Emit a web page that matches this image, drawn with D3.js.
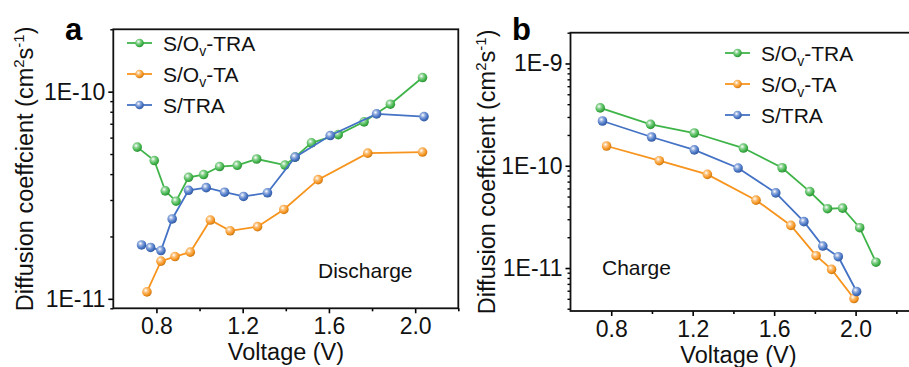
<!DOCTYPE html>
<html>
<head>
<meta charset="utf-8">
<script src="https://cdn.jsdelivr.net/npm/d3@7"></script>
<style>
  html, body { margin: 0; padding: 0; background: #fff; }
  svg { display: block; font-family: "Liberation Sans", Arial, sans-serif; }
</style>
</head>
<body>
<svg id="chart" width="909" height="367"></svg>
<script>
// ---- data (voltage V, diffusion coefficient cm2/s) ----
const seriesKeys = ["ovTRA", "ovTA", "sTRA"];

// panel a : discharge
const dischargeOvTRA = [
  [0.711, 5.4e-11], [0.790, 4.65e-11], [0.841, 3.32e-11], [0.891, 2.96e-11],
  [0.949, 3.86e-11], [1.019, 3.98e-11], [1.093, 4.35e-11], [1.175, 4.41e-11],
  [1.265, 4.73e-11], [1.396, 4.42e-11], [1.443, 4.83e-11], [1.519, 5.66e-11],
  [1.643, 6.2e-11], [1.763, 7.15e-11], [1.885, 8.7e-11], [2.034, 1.17e-10]
];
const dischargeOvTA = [
  [0.756, 1.08e-11], [0.821, 1.52e-11], [0.886, 1.60e-11], [0.957, 1.68e-11],
  [1.050, 2.40e-11], [1.142, 2.13e-11], [1.269, 2.23e-11], [1.391, 2.70e-11],
  [1.550, 3.76e-11], [1.780, 5.05e-11], [2.034, 5.11e-11]
];
const dischargeSTRA = [
  [0.731, 1.82e-11], [0.773, 1.77e-11], [0.821, 1.71e-11], [0.873, 2.43e-11],
  [0.949, 3.34e-11], [1.031, 3.44e-11], [1.116, 3.27e-11], [1.204, 3.12e-11],
  [1.315, 3.25e-11], [1.443, 4.83e-11], [1.606, 6.14e-11], [1.821, 7.81e-11],
  [2.041, 7.58e-11]
];

// panel b : charge
const chargeOvTRA = [
  [0.746, 3.68e-10], [0.993, 2.54e-10], [1.208, 2.09e-10], [1.449, 1.49e-10],
  [1.639, 9.56e-11], [1.775, 5.59e-11], [1.862, 3.80e-11], [1.936, 3.85e-11],
  [2.020, 2.48e-11], [2.100, 1.14e-11]
];
const chargeOvTA = [
  [0.777, 1.56e-10], [1.036, 1.12e-10], [1.272, 8.24e-11], [1.511, 4.61e-11],
  [1.682, 2.61e-11], [1.806, 1.32e-11], [1.882, 9.7e-12], [1.992, 5.03e-12]
];
const chargeSTRA = [
  [0.757, 2.74e-10], [0.998, 1.91e-10], [1.208, 1.43e-10], [1.423, 9.5e-11],
  [1.608, 5.43e-11], [1.746, 2.84e-11], [1.839, 1.64e-11], [1.915, 1.29e-11],
  [2.005, 5.89e-12]
];

// ---- ticks ----
const xMajorTicks = [0.8, 1.2, 1.6, 2.0];
const xMinorTicks = [1.0, 1.4, 1.8, 2.2];
const yTicksA = [1e-11, 1e-10];
const yTicksB = [1e-11, 1e-10, 1e-9];

// ---- styling ----
const colors = { ovTRA: "#3fb449", ovTA: "#f7941d", sTRA: "#4472c4" };
const legendLabels = {
  ovTRA: ["S/O", "v", "-TRA"],
  ovTA: ["S/O", "v", "-TA"],
  sTRA: ["S/TRA", "", ""]
};

const svg = d3.select("#chart");
const defs = svg.append("defs");

// shiny ball markers
seriesKeys.forEach(k => {
  const g = defs.append("radialGradient")
    .attr("id", "ball-" + k)
    .attr("cx", "38%").attr("cy", "35%").attr("r", "65%");
  g.append("stop").attr("offset", "0%").attr("stop-color", "#ffffff");
  g.append("stop").attr("offset", "35%").attr("stop-color", d3.interpolateRgb("#fff", colors[k])(0.6));
  g.append("stop").attr("offset", "75%").attr("stop-color", colors[k]);
  g.append("stop").attr("offset", "100%").attr("stop-color", d3.color(colors[k]).darker(0.6));
});

function drawPanel(cfg) {
  const x = d3.scaleLinear().domain(cfg.xDomain).range([cfg.left, cfg.right]);
  const y = d3.scaleLog().domain(cfg.yDomain).range([cfg.bottom, cfg.top]);

  const clipId = "clip-" + cfg.letter;
  defs.append("clipPath").attr("id", clipId)
    .append("rect")
    .attr("x", cfg.left).attr("y", cfg.top)
    .attr("width", cfg.right - cfg.left).attr("height", cfg.bottom - cfg.top);

  // x axis
  const xAxis = svg.append("g")
    .attr("transform", `translate(0,${cfg.bottom})`)
    .call(d3.axisBottom(x).tickValues(xMajorTicks).tickSize(5).tickPadding(6)
      .tickFormat(d3.format(".1f")));
  xAxis.select(".domain").remove();
  xAxis.selectAll("line").attr("stroke-width", 1.6);
  xAxis.selectAll("text")
    .attr("y", 26).attr("dy", 0)
    .style("font-size", "23px").style("font-family", "Liberation Sans, Arial, sans-serif")
    .attr("fill", "#111");

  const xMinor = svg.append("g")
    .attr("transform", `translate(0,${cfg.bottom})`)
    .call(d3.axisBottom(x).tickValues(xMinorTicks.filter(v => v <= cfg.xDomain[1])).tickSize(3).tickFormat(""));
  xMinor.select(".domain").remove();
  xMinor.selectAll("line").attr("stroke-width", 1.6);

  // y axis
  const yAxis = svg.append("g")
    .attr("transform", `translate(${cfg.left},0)`)
    .call(d3.axisLeft(y).tickValues(cfg.yTicks).tickSize(5).tickPadding(3)
      .tickFormat(d => "1E" + Math.round(Math.log10(d))));
  yAxis.select(".domain").remove();
  yAxis.selectAll("line").attr("stroke-width", 1.6);
  yAxis.selectAll("text")
    .style("font-size", "23px").style("font-family", "Liberation Sans, Arial, sans-serif")
    .attr("fill", "#111");

  // log minor ticks
  const minor = [];
  const lo = Math.floor(Math.log10(cfg.yDomain[0]));
  const hi = Math.ceil(Math.log10(cfg.yDomain[1]));
  for (let e = lo; e < hi; e++) {
    for (let m = 2; m <= 9; m++) {
      const v = m * Math.pow(10, e);
      if (v >= cfg.yDomain[0] && v <= cfg.yDomain[1]) minor.push(v);
    }
  }
  const yMinor = svg.append("g")
    .attr("transform", `translate(${cfg.left},0)`)
    .call(d3.axisLeft(y).tickValues(minor).tickSize(3).tickFormat(""));
  yMinor.select(".domain").remove();
  yMinor.selectAll("line").attr("stroke-width", 1.4);

  // frame
  svg.append("rect")
    .attr("x", cfg.left).attr("y", cfg.top)
    .attr("width", cfg.right - cfg.left).attr("height", cfg.bottom - cfg.top)
    .attr("fill", "none").attr("stroke", "#111").attr("stroke-width", 1.8);

  // series
  const line = d3.line().x(d => x(d[0])).y(d => y(d[1]));
  const plot = svg.append("g").attr("clip-path", `url(#${clipId})`);
  seriesKeys.forEach(k => {
    const data = cfg.series[k];
    plot.append("path")
      .datum(data)
      .attr("fill", "none")
      .attr("stroke", colors[k])
      .attr("stroke-width", 1.8)
      .attr("d", line);
    plot.selectAll(null)
      .data(data)
      .enter()
      .append("circle")
      .attr("cx", d => x(d[0]))
      .attr("cy", d => y(d[1]))
      .attr("r", 4.8)
      .attr("fill", `url(#ball-${k})`);
  });

  // legend
  seriesKeys.forEach((k, i) => {
    const ly = cfg.legendY + i * cfg.legendGap;
    svg.append("line")
      .attr("x1", cfg.legendX).attr("x2", cfg.legendX + 25)
      .attr("y1", ly).attr("y2", ly)
      .attr("stroke", colors[k]).attr("stroke-width", 1.8);
    svg.append("circle")
      .attr("cx", cfg.legendX + 12.5).attr("cy", ly).attr("r", 4.3)
      .attr("fill", `url(#ball-${k})`);
    const parts = legendLabels[k];
    const t = svg.append("text")
      .attr("x", cfg.legendX + 36).attr("y", ly + 7.5)
      .style("font-size", "21px").attr("fill", "#111");
    t.append("tspan").text(parts[0]);
    if (parts[1]) {
      t.append("tspan").attr("dy", 5).style("font-size", "14px").text(parts[1]);
      t.append("tspan").attr("dy", -5).text(parts[2]);
    }
  });

  // note text
  svg.append("text")
    .attr("x", cfg.noteX).attr("y", cfg.noteY)
    .style("font-size", "21px").attr("fill", "#111")
    .text(cfg.note);

  // axis titles
  svg.append("text")
    .attr("x", cfg.xTitleX).attr("y", cfg.bottom + 52)
    .attr("text-anchor", "middle")
    .style("font-size", "23.5px").attr("fill", "#111")
    .text("Voltage (V)");

  const yt = svg.append("text")
    .attr("transform", `translate(${cfg.left - cfg.yTitleOffset},${(cfg.top + cfg.bottom) / 2}) rotate(-90)`)
    .attr("text-anchor", "middle")
    .style("font-size", "23.5px").attr("fill", "#111");
  yt.append("tspan").text("Diffusion coeffcient (cm");
  yt.append("tspan").attr("dy", -9).style("font-size", "15px").text("2");
  yt.append("tspan").attr("dy", 9).text("s");
  yt.append("tspan").attr("dy", -9).style("font-size", "15px").text("-1");
  yt.append("tspan").attr("dy", 9).text(")");

  // panel letter
  svg.append("text")
    .attr("x", cfg.letterX).attr("y", 40)
    .style("font-size", "31px").style("font-weight", "bold").attr("fill", "#000")
    .text(cfg.letter);
}

drawPanel({
  letter: "a", letterX: 65,
  left: 113.3, right: 458.3, top: 29.3, bottom: 308.3,
  xDomain: [0.6, 2.2], yDomain: [9e-12, 2e-10], yTicks: yTicksA,
  series: { ovTRA: dischargeOvTRA, ovTA: dischargeOvTA, sTRA: dischargeSTRA },
  legendX: 127, legendY: 43, legendGap: 31,
  note: "Discharge", noteX: 318, noteY: 278,
  xTitleX: 286, yTitleOffset: 80
});

drawPanel({
  letter: "b", letterX: 512,
  left: 570.5, right: 916.7, top: 32.7, bottom: 311,
  xDomain: [0.6, 2.3], yDomain: [3.8e-12, 2e-9], yTicks: yTicksB,
  series: { ovTRA: chargeOvTRA, ovTA: chargeOvTA, sTRA: chargeSTRA },
  legendX: 725, legendY: 53, legendGap: 31,
  note: "Charge", noteX: 602, noteY: 275,
  xTitleX: 738.5, yTitleOffset: 75.5
});
</script>
</body>
</html>
